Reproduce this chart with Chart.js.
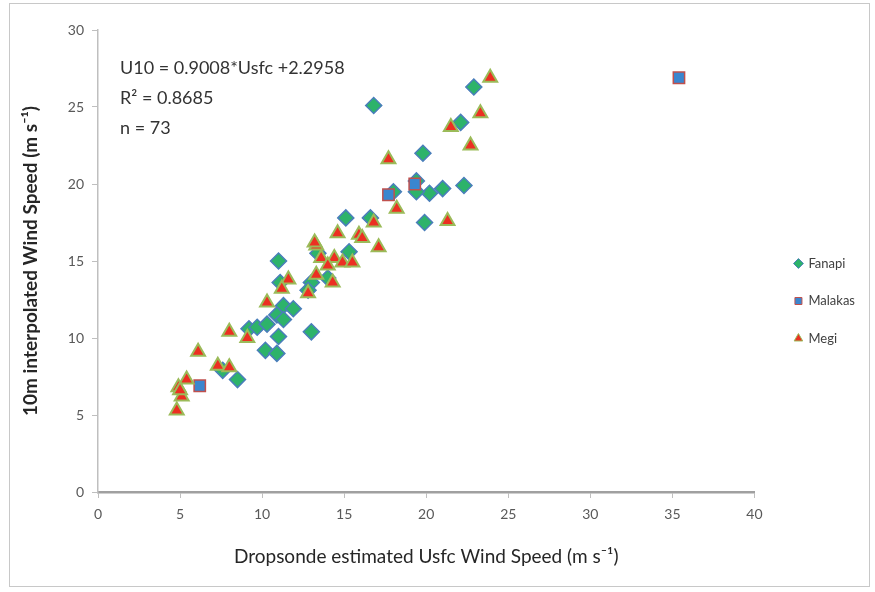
<!DOCTYPE html>
<html><head><meta charset="utf-8">
<script src="https://cdn.jsdelivr.net/npm/chart.js@4.4.1/dist/chart.umd.min.js"></script>
<style>
html,body{margin:0;padding:0;background:#fff;}
#wrap{position:relative;width:875px;height:592px;}
#frame{position:absolute;left:9px;top:3px;width:861px;height:584px;border:1.5px solid #c8c8c8;box-sizing:border-box;pointer-events:none;}
canvas{position:absolute;left:0;top:0;}
</style></head>
<body><div id="wrap"><canvas id="c" width="875" height="592"></canvas><div id="frame"></div></div>
<script>
const seriesNames = ["Fanapi", "Malakas", "Megi"];
const fanapiX = [16.8,22.9,22.1,19.8,22.3,21.0,20.2,19.4,18.0,19.9,15.1,16.6,15.3,11.0,11.1,11.3,11.9,10.9,9.2,9.7,10.3,11.3,11.0,10.2,10.9,8.5,7.6,13.0,13.0,14.0,13.4,19.4,12.8];
const fanapiY = [25.1,26.3,24.0,22.0,19.9,19.7,19.4,19.5,19.5,17.5,17.8,17.8,15.6,15.0,13.6,12.1,11.9,11.5,10.6,10.7,10.9,11.2,10.1,9.2,9.0,7.3,7.9,10.4,13.6,13.9,15.5,20.2,13.1];
const malakasX = [6.2,17.7,19.3,35.4];
const malakasY = [6.9,19.3,20.0,26.9];
const megiX = [23.9,23.3,21.5,22.7,17.7,21.3,18.2,16.8,14.6,15.9,17.1,13.3,13.6,14.4,14.9,15.5,14.0,13.3,14.3,12.8,11.6,11.2,10.3,9.1,8.0,6.1,7.3,8.0,5.4,4.9,5.1,4.8,16.1,13.2,5.0];
const megiY = [26.9,24.6,23.7,22.5,21.6,17.6,18.4,17.5,16.8,16.7,15.9,16.0,15.2,15.2,14.9,14.9,14.7,14.1,13.6,12.9,13.8,13.2,12.3,10.0,10.4,9.1,8.2,8.1,7.3,6.8,6.2,5.3,16.5,16.2,6.6];
const xTicks = [0,5,10,15,20,25,30,35,40];
const yTicks = [0,5,10,15,20,25,30];
const annotationLines = ["U10 = 0.9008*Usfc +2.2958", "R\u00B2 = 0.8685", "n = 73"];
const xTitle = "Dropsonde estimated Usfc Wind Speed (m s\u207B\u00B9)";
const yTitle = "10m interpolated Wind Speed (m s\u207B\u00B9)";

const pts = (xs, ys) => xs.map((x, i) => ({x: x, y: ys[i]}));
const FONT = "Lato, 'Open Sans', sans-serif";
const PAD_L = 15, PAD_B = 20, PAD_T = 30;

const annot = {
  id: 'annot',
  afterDraw(chart) {
    const ctx = chart.ctx, a = chart.chartArea;
    ctx.save();
    ctx.font = "18px " + FONT;
    ctx.fillStyle = "#333333";
    ctx.textBaseline = "middle";
    annotationLines.forEach((t, i) => ctx.fillText(t, a.left + 22, 68 + i * 30));
    ctx.restore();
  }
};

new Chart(document.getElementById('c'), {
  type: 'scatter',
  data: {
    datasets: [
      {label: seriesNames[0], data: pts(fanapiX, fanapiY), pointStyle: 'rectRot', radius: 8, hoverRadius: 8,
       backgroundColor: '#2db36a', borderColor: '#4a7ebb', borderWidth: 1.5, order: 2},
      {label: seriesNames[1], data: pts(malakasX, malakasY), pointStyle: 'rect', radius: 8, hoverRadius: 8,
       backgroundColor: '#3a86cf', borderColor: '#c0504d', borderWidth: 1.5, order: 1},
      {label: seriesNames[2], data: pts(megiX, megiY), pointStyle: 'triangle', radius: 8, hoverRadius: 8,
       backgroundColor: '#ec2f22', borderColor: '#9bbb59', borderWidth: 2, order: 0}
    ]
  },
  options: {
    responsive: false, animation: false, devicePixelRatio: 1,
    layout: {padding: {left: PAD_L, top: PAD_T, bottom: PAD_B, right: 10}},
    plugins: {
      tooltip: {enabled: false},
      legend: {
        position: 'right',
        labels: {
          usePointStyle: true, boxWidth: 7, boxHeight: 7, padding: 24.5,
          font: {family: FONT, size: 13}, color: '#404040',
          sort: (a, b) => a.datasetIndex - b.datasetIndex,
          generateLabels(chart) {
            const items = Chart.defaults.plugins.legend.labels.generateLabels(chart);
            items.forEach(it => { it.lineWidth = 1; });
            return items;
          }
        }
      }
    },
    scales: {
      x: {
        type: 'linear', min: 0, max: 40,
        afterBuildTicks(s) { s.ticks = xTicks.map(v => ({value: v})); },
        afterFit(s) { s.height = 592 - PAD_B - 492; },
        grid: {drawOnChartArea: false, tickLength: 6, color: '#bfbfbf'},
        border: {color: '#a0a0a0', width: 2.5},
        ticks: {color: '#595959', font: {family: FONT, size: 14}, padding: 8},
        title: {display: true, text: xTitle, color: '#262626', font: {family: FONT, size: 19}}
      },
      y: {
        type: 'linear', min: 0, max: 30,
        afterBuildTicks(s) { s.ticks = yTicks.map(v => ({value: v})); },
        afterFit(s) { s.width = 98 - PAD_L; },
        grid: {drawOnChartArea: false, tickLength: 6, color: '#bfbfbf'},
        border: {color: '#bfbfbf', width: 1.5},
        ticks: {color: '#595959', font: {family: FONT, size: 14}, padding: 8},
        title: {display: true, text: yTitle, color: '#262626', font: {family: FONT, size: 19, weight: 'bold'}}
      },
      yPad: {
        type: 'linear', position: 'right', min: 0, max: 1,
        afterFit(s) { s.width = 16; },
        grid: {display: false}, border: {display: false}, ticks: {display: false}
      }
    }
  },
  plugins: [annot]
});
</script></body></html>
